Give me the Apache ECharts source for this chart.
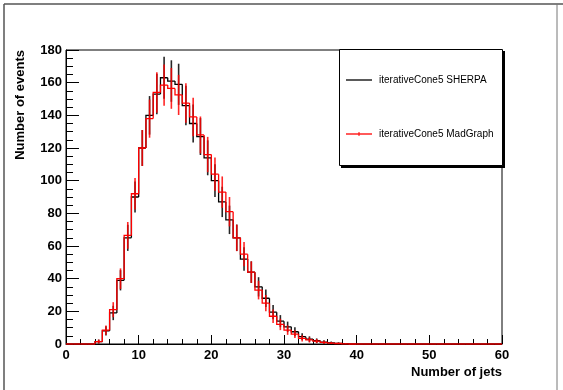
<!DOCTYPE html>
<html>
<head>
<meta charset="utf-8">
<script src="https://cdn.jsdelivr.net/npm/echarts@6/dist/echarts.min.js"></script>
<style>
html,body{margin:0;padding:0;background:#fff;}
#chart{width:563px;height:390px;}
</style>
</head>
<body>
<div id="chart"></div>
<script>
// Bin lower edges 0..59 (width 1)
const binEdges = [0,1,2,3,4,5,6,7,8,9,10,11,12,13,14,15,16,17,18,19,20,21,22,23,24,25,26,27,28,29,30,31,32,33,34,35,36,37,38,39,40,41,42,43,44,45,46,47,48,49,50,51,52,53,54,55,56,57,58,59];
const sherpaValues = [0,0,0,0,1.5,8,19,39,65,90,120,140,153,163,161,159,146,135,127,114,100,87,76,65,52,44,35,28,19.5,14,10.5,7.5,4.5,3,2,1.2,0.7,0.4,0.2,0,0,0,0,0,0,0,0,0,0,0,0,0,0,0,0,0,0,0,0,0];
const sherpaErrors = [0,0,0,0,1.2,2.8,4.4,6.2,8,9.5,11,11.8,12.4,12.8,12.7,12.6,12.1,11.6,11.3,10.7,10,9.3,8.7,8.1,7.2,6.6,5.9,5.3,4.4,3.7,3.2,2.7,2.1,1.7,1.4,1.1,0.8,0.6,0.4,0,0,0,0,0,0,0,0,0,0,0,0,0,0,0,0,0,0,0,0,0];
const madgraphValues = [0,0,0,0,1.5,8.5,21,40,66.5,92,120,138,154,158.5,156.5,152.5,147.5,139,128,116,104,93,81,65,55,44,33,25,17,12,8.5,6,3.5,2.5,1.8,1,0.5,0.3,0.1,0,0,0,0,0,0,0,0,0,0,0,0,0,0,0,0,0,0,0,0,0];
const madgraphErrors = [0,0,0,0,1.2,2.9,4.6,6.3,8.2,9.6,11,11.7,12.4,12.6,12.5,12.3,12.1,11.8,11.3,10.8,10.2,9.6,9,8.1,7.4,6.6,5.7,5,4.1,3.5,2.9,2.4,1.9,1.6,1.3,1,0.7,0.5,0.3,0,0,0,0,0,0,0,0,0,0,0,0,0,0,0,0,0,0,0,0,0];
const xTicks = [0,10,20,30,40,50,60];
const yTicks = [0,20,40,60,80,100,120,140,160,180];
const seriesNames = ['iterativeCone5 SHERPA','iterativeCone5 MadGraph'];

function histSeries(name, vals, errs, color, z) {
  const data = binEdges.map((e, i) => [e, vals[i], i > 0 ? vals[i-1] : 0, errs[i]]);
  return {
    name: name,
    type: 'custom',
    z: z,
    clip: false,
    encode: {x: 0, y: 1},
    data: data,
    renderItem: function (params, api) {
      const x0 = api.value(0), v = api.value(1), pv = api.value(2), e = api.value(3);
      const p = api.coord([x0, pv]);
      const a = api.coord([x0, v]);
      const b = api.coord([x0 + 1, v]);
      const children = [{
        type: 'polyline',
        shape: {points: [p, a, b]},
        style: {stroke: color, lineWidth: 1.3, fill: null}
      }];
      if (e > 0) {
        const c = api.coord([x0 + 0.5, v + e]);
        const d = api.coord([x0 + 0.5, Math.max(0, v - e)]);
        children.push({
          type: 'line',
          shape: {x1: c[0], y1: c[1], x2: d[0], y2: d[1]},
          style: {stroke: color, lineWidth: 1.6, opacity: 0.85}
        });
      }
      return {type: 'group', children: children};
    }
  };
}

const chart = echarts.init(document.getElementById('chart'), null, {renderer: 'canvas'});
const fontFam = '"Liberation Sans", Arial, Helvetica, sans-serif';

chart.setOption({
  animation: false,
  backgroundColor: '#ffffff',
  grid: {left: 66, right: 61, top: 50, bottom: 46, show: true, borderColor: '#000', borderWidth: 1, backgroundColor: 'transparent'},
  xAxis: {
    type: 'value', min: 0, max: 60, interval: 10,
    axisLine: {show: true, lineStyle: {color: '#000', width: 1}},
    axisTick: {show: true, inside: true, length: 9, lineStyle: {color: '#000'}},
    minorTick: {show: true, splitNumber: 5, length: 5, lineStyle: {color: '#000'}},
    splitLine: {show: false},
    axisLabel: {
      color: '#000', fontWeight: 'bold', fontSize: 13, fontFamily: fontFam, margin: 5,
      formatter: function (v) { return xTicks.indexOf(v) >= 0 ? String(v) : ''; }
    }
  },
  yAxis: {
    type: 'value', min: 0, max: 180, interval: 20,
    axisLine: {show: true, lineStyle: {color: '#000', width: 1}},
    axisTick: {show: true, inside: true, length: 13, lineStyle: {color: '#000'}},
    minorTick: {show: true, splitNumber: 4, length: 7, lineStyle: {color: '#000'}},
    splitLine: {show: false},
    axisLabel: {
      color: '#000', fontWeight: 'bold', fontSize: 13, fontFamily: fontFam, margin: 4,
      formatter: function (v) { return yTicks.indexOf(v) >= 0 ? String(v) : ''; }
    }
  },
  series: [
    histSeries(seriesNames[0], sherpaValues, sherpaErrors, '#000000', 3),
    histSeries(seriesNames[1], madgraphValues, madgraphErrors, '#ff0000', 4)
  ],
  graphic: [
    // canvas border
    {type: 'line', shape: {x1: 4, y1: 4, x2: 563, y2: 4}, style: {stroke: '#555', lineWidth: 1.5}, z: 100},
    {type: 'line', shape: {x1: 4, y1: 4, x2: 4, y2: 390}, style: {stroke: '#555', lineWidth: 1.5}, z: 100},
    {type: 'line', shape: {x1: 557, y1: 4, x2: 557, y2: 390}, style: {stroke: '#777', lineWidth: 1}, z: 100},
    // axis titles
    {type: 'text', x: 502, y: 372, z: 100, style: {text: 'Number of jets', fill: '#000', font: 'bold 13px ' + fontFam, textAlign: 'right', textVerticalAlign: 'middle'}},
    {type: 'text', x: 20, y: 50, rotation: Math.PI / 2, z: 100, style: {text: 'Number of events', fill: '#000', font: 'bold 13px ' + fontFam, textAlign: 'right', textVerticalAlign: 'middle'}},
    // legend box with shadow
    {type: 'rect', shape: {x: 341, y: 51, width: 164, height: 117}, style: {fill: '#000'}, z: 100},
    {type: 'rect', shape: {x: 339.5, y: 49.5, width: 163, height: 116}, style: {fill: '#fff', stroke: '#000', lineWidth: 1}, z: 101},
    {type: 'line', shape: {x1: 346, y1: 80, x2: 372, y2: 80}, style: {stroke: '#000', lineWidth: 1.3}, z: 102},
    {type: 'text', x: 379, y: 80, z: 102, style: {text: seriesNames[0], fill: '#000', font: '10px ' + fontFam, textVerticalAlign: 'middle'}},
    {type: 'line', shape: {x1: 346, y1: 134, x2: 372, y2: 134}, style: {stroke: '#ff0000', lineWidth: 1.3}, z: 102},
    {type: 'line', shape: {x1: 359, y1: 132, x2: 359, y2: 136}, style: {stroke: '#ff0000', lineWidth: 1}, z: 102},
    {type: 'text', x: 379, y: 134, z: 102, style: {text: seriesNames[1], fill: '#000', font: '10px ' + fontFam, textVerticalAlign: 'middle'}}
  ]
});
</script>
</body>
</html>
